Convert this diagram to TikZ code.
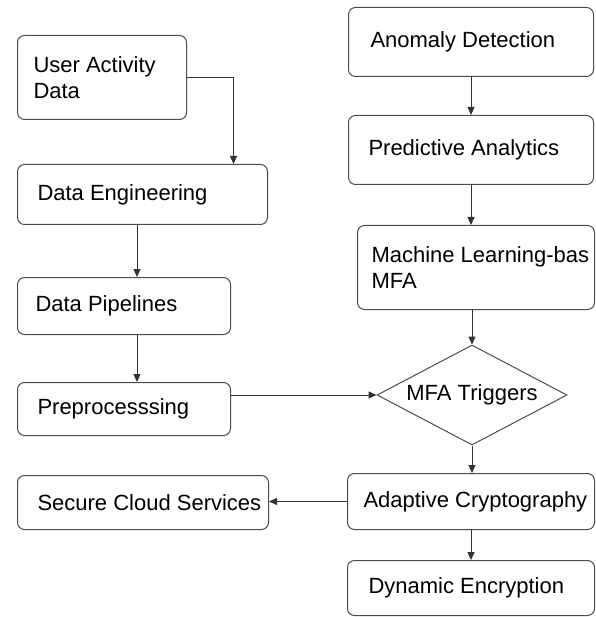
\documentclass[tikz,border=0pt]{standalone}
\usepackage{fontspec}
\setmainfont{Liberation Sans}
\usepackage{tikz}
\usetikzlibrary{arrows.meta,shapes.geometric}
\newcommand{\boxFont}[0]{\fontsize{22}{26}\selectfont}
\newcommand{\lineWidth}[0]{1pt}
\definecolor{edgegray}{gray}{0.3}

\begin{document}
\begin{tikzpicture}[x=1pt, y=-1pt]
  \tikzset{flowbox/.style={draw=edgegray, line width=\lineWidth, rounded corners=7pt,
      anchor=north west, align=flush left, inner ysep=0pt, font=\boxFont}}
  \tikzset{flowarrow/.style={draw=black!80, line width=\lineWidth,
      -{Triangle[width=7pt,length=8pt]}}}
  \useasboundingbox (0,0) rectangle (595,617);
  % left column
  \node[flowbox, inner xsep=16pt, text width=137pt, minimum height=84pt] (uad) at (17,35) {User Activity\\Data};
  \node[flowbox, inner xsep=20pt, text width=210pt, minimum height=60pt] (deng) at (17,164) {Data Engineering};
  \node[flowbox, inner xsep=18pt, text width=177pt, minimum height=57pt] (dpipe) at (17,277) {Data Pipelines};
  \node[flowbox, inner xsep=20pt, text width=173pt, minimum height=53pt] (prep) at (17,382) {Preprocesssing};
  \node[flowbox, inner xsep=20pt, text width=211pt, minimum height=54pt] (scs) at (17,475) {\mbox{Secure Cloud Services}};
  % right column
  \node[flowbox, inner xsep=22pt, text width=201pt, minimum height=69pt] (anom) at (348,7) {Anomaly Detection};
  \node[flowbox, inner xsep=20pt, text width=205pt, minimum height=69pt] (pred) at (348,115) {Predictive Analytics};
  \node[flowbox, inner xsep=14pt, text width=209pt, minimum height=84pt] (ml) at (357,225) {\mbox{Machine Learning-bas}\\MFA};
  \node[draw=edgegray, line width=\lineWidth, diamond, aspect=2, inner sep=0pt, font=\boxFont,
      minimum width=190pt, minimum height=100pt] (diam) at (472,395) {MFA Triggers};
  \node[flowbox, inner xsep=16pt, text width=215pt, minimum height=56pt] (adap) at (347,473) {\mbox{Adaptive Cryptography}};
  \node[flowbox, inner xsep=21pt, text width=205pt, minimum height=55pt] (dyn) at (347,560) {Dynamic Encryption};

  \coordinate (leftcol) at (137,0);
  \draw[flowarrow] (uad.east) -| ([xshift=91pt]deng.north);
  \draw[flowarrow] (deng.south -| leftcol) -- (dpipe.north -| leftcol);
  \draw[flowarrow] (dpipe.south -| leftcol) -- (prep.north -| leftcol);
  \draw[flowarrow] (prep.east |- diam.west) -- (diam.west);
  \draw[flowarrow] (anom.south) -- (pred.north);
  \draw[flowarrow] (pred.south) -- (pred.south |- ml.north);
  \draw[flowarrow] (ml.south -| diam.north) -- (diam.north);
  \draw[flowarrow] (diam.south) -- (diam.south |- adap.north);
  \draw[flowarrow] (adap.west) -- (adap.west -| scs.east);
  \draw[flowarrow] (adap.south) -- (dyn.north);
\end{tikzpicture}
\end{document}
